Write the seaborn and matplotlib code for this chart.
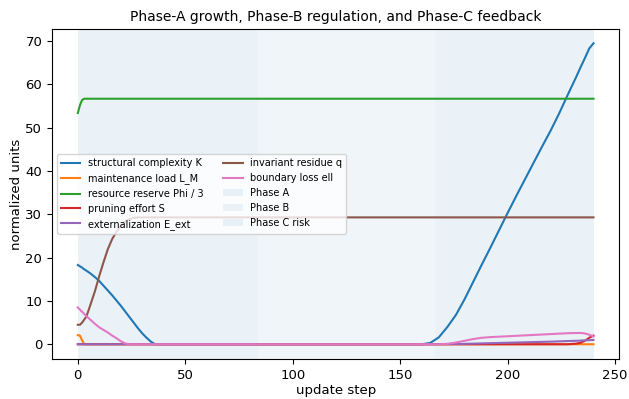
import matplotlib
matplotlib.use("Agg")
import matplotlib.pyplot as plt
import seaborn as sns
import pandas as pd

steps = [0, 1, 2, 3, 4, 6, 8, 10, 12, 14, 16, 18, 20, 22, 24, 26, 28, 30, 32, 34, 36,
         40, 60, 84, 100, 120, 140, 160, 164, 168, 172, 176, 180, 184, 188, 192, 196,
         200, 204, 208, 212, 216, 220, 224, 228, 232, 234, 236, 238, 240]

K = [18.3, 18.0, 17.7, 17.3, 17.0, 16.3, 15.5, 14.6, 13.5, 12.4, 11.3, 10.1, 8.9, 7.6, 6.3, 5.0, 3.7, 2.5, 1.5, 0.6, 0.0,
     0.0, 0.0, 0.0, 0.0, 0.0, 0.0, 0.0, 0.3, 1.6, 4.0, 6.8, 10.4, 14.4, 18.4, 22.3, 26.3,
     30.3, 34.2, 38.0, 41.8, 45.6, 49.3, 53.3, 57.6, 61.8, 64.0, 66.1, 68.3, 69.5]

L_M = [2.1, 2.0, 0.9, 0.0, 0.0, 0.0, 0.0, 0.0, 0.0, 0.0, 0.0, 0.0, 0.0, 0.0, 0.0, 0.0, 0.0, 0.0, 0.0, 0.0, 0.0,
       0.0, 0.0, 0.0, 0.0, 0.0, 0.0, 0.0, 0.0, 0.0, 0.0, 0.0, 0.0, 0.0, 0.0, 0.0, 0.0,
       0.0, 0.0, 0.0, 0.0, 0.0, 0.0, 0.0, 0.0, 0.0, 0.0, 0.0, 0.0, 0.0]

Phi3 = [53.4, 55.2, 56.4, 56.7, 56.7, 56.7, 56.7, 56.7, 56.7, 56.7, 56.7, 56.7, 56.7, 56.7, 56.7, 56.7, 56.7, 56.7, 56.7, 56.7, 56.7,
        56.7, 56.7, 56.7, 56.7, 56.7, 56.7, 56.7, 56.7, 56.7, 56.7, 56.7, 56.7, 56.7, 56.7, 56.7, 56.7,
        56.7, 56.7, 56.7, 56.7, 56.7, 56.7, 56.7, 56.7, 56.7, 56.7, 56.7, 56.7, 56.7]

S = [0.0, 0.0, 0.0, 0.0, 0.0, 0.0, 0.0, 0.0, 0.0, 0.0, 0.0, 0.0, 0.0, 0.0, 0.0, 0.0, 0.0, 0.0, 0.0, 0.0, 0.0,
     0.0, 0.0, 0.0, 0.0, 0.0, 0.0, 0.0, 0.0, 0.0, 0.0, 0.0, 0.0, 0.0, 0.0, 0.0, 0.0,
     0.0, 0.0, 0.0, 0.0, 0.0, 0.0, 0.0, 0.0, 0.15, 0.35, 0.8, 1.5, 2.0]

E_ext = [0.0, 0.0, 0.0, 0.0, 0.0, 0.0, 0.0, 0.0, 0.0, 0.0, 0.0, 0.0, 0.0, 0.0, 0.0, 0.0, 0.0, 0.0, 0.0, 0.0, 0.0,
         0.0, 0.0, 0.0, 0.0, 0.0, 0.0, 0.0, 0.0, 0.0, 0.03, 0.06, 0.1, 0.15, 0.2, 0.25, 0.3,
         0.35, 0.4, 0.45, 0.5, 0.55, 0.6, 0.67, 0.74, 0.8, 0.85, 0.9, 0.95, 1.0]

q = [4.5, 4.5, 5.0, 5.7, 6.4, 9.3, 12.3, 15.8, 19.0, 22.0, 24.3, 26.0, 27.3, 28.3, 28.9, 29.2, 29.3, 29.3, 29.3, 29.3, 29.3,
     29.3, 29.3, 29.3, 29.3, 29.3, 29.3, 29.3, 29.3, 29.3, 29.3, 29.3, 29.3, 29.3, 29.3, 29.3, 29.3,
     29.3, 29.3, 29.3, 29.3, 29.3, 29.3, 29.3, 29.3, 29.3, 29.3, 29.3, 29.3, 29.3]

ell = [8.5, 8.0, 7.5, 7.0, 6.5, 5.6, 4.7, 3.9, 3.3, 2.7, 2.0, 1.4, 0.7, 0.2, 0.0, 0.0, 0.0, 0.0, 0.0, 0.0, 0.0,
       0.0, 0.0, 0.0, 0.0, 0.0, 0.0, 0.0, 0.0, 0.0, 0.1, 0.4, 0.8, 1.2, 1.5, 1.65, 1.75,
       1.85, 1.95, 2.05, 2.15, 2.25, 2.35, 2.45, 2.55, 2.6, 2.6, 2.5, 2.2, 1.8]

series_names = ["structural complexity K", "maintenance load L_M", "resource reserve Phi / 3",
                "pruning effort S", "externalization E_ext", "invariant residue q", "boundary loss ell"]
series_values = [K, L_M, Phi3, S, E_ext, q, ell]
series_colors = ["#1f77b4", "#ff7f0e", "#2ca02c", "#d62728", "#9467bd", "#8c564b", "#e377c2"]

phase_names = ["Phase A", "Phase B", "Phase C risk"]
phase_starts = [0, 84, 166]
phase_ends = [84, 166, 240]
phase_alphas = [0.09, 0.07, 0.09]

fig, ax = plt.subplots(figsize=(6.29, 3.99), dpi=100)
fig.subplots_adjust(left=0.0827, right=0.9846, top=0.9273, bottom=0.1003)

for name, vals, col in zip(series_names, series_values, series_colors):
    df = pd.DataFrame({"step": steps, "value": vals})
    sns.lineplot(data=df, x="step", y="value", ax=ax, color=col, label=name,
                 linewidth=1.5, estimator=None, sort=False)

for name, s, e, a in zip(phase_names, phase_starts, phase_ends, phase_alphas):
    ax.axvspan(s, e, color="#1f77b4", alpha=a, linewidth=0, zorder=0, label=name)

ax.set_xlim(-12, 252)
ax.set_ylim(-3.4, 72.8)
ax.tick_params(labelsize=9.5)
ax.set_xlabel("update step", fontsize=9.5, labelpad=2)
ax.set_ylabel("normalized units", fontsize=9.5, labelpad=2)
ax.set_title("Phase-A growth, Phase-B regulation, and Phase-C feedback", fontsize=10)
ax.legend(loc="center left", ncol=2, fontsize=7, framealpha=0.8)

fig.savefig("out.png", dpi=100)
